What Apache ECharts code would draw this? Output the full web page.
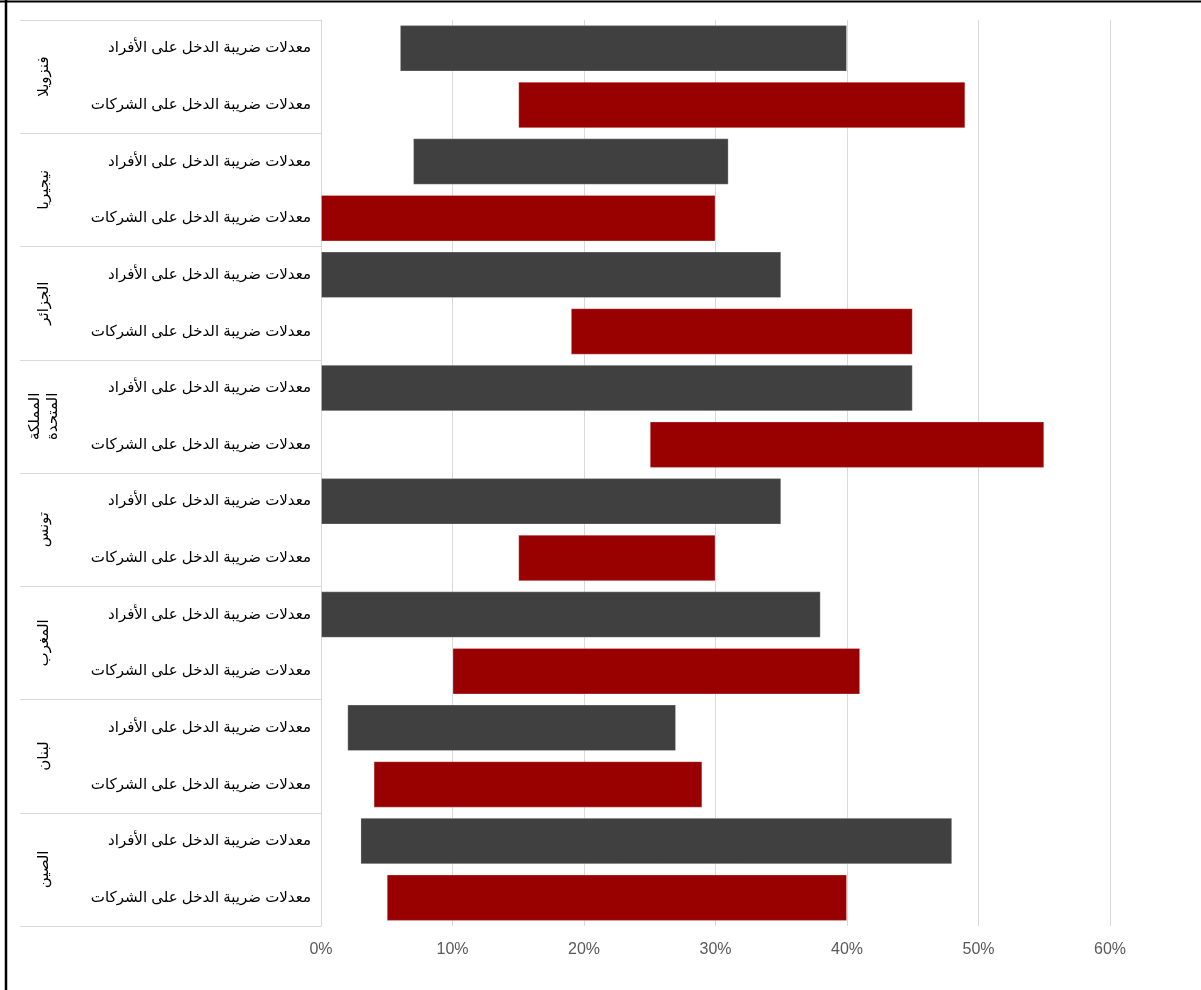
<!DOCTYPE html>
<html>
<head>
<meta charset="utf-8">
<script src="https://cdn.jsdelivr.net/npm/echarts@6/dist/echarts.min.js"></script>
<style>
  html, body { margin: 0; padding: 0; background: #fff; }
  #chart { width: 1201px; height: 990px; }
</style>
</head>
<body>
<div id="chart"></div>
<script>
// countries, top to bottom
const countries = ['فنزويلا', 'نيجيريا', 'الجزائر', 'المملكة\nالمتحدة', 'تونس', 'المغرب', 'لبنان', 'الصين'];
const rowLabels = ['معدلات ضريبة الدخل على الأفراد', 'معدلات ضريبة الدخل على الشركات'];

// tax rate ranges in % (min, max)
const indLow = [6, 7, 0, 0, 0, 0, 2, 3];
const indHigh = [40, 31, 35, 45, 35, 38, 27, 48];
const corpLow = [15, 0, 19, 25, 15, 10, 4, 5];
const corpHigh = [49, 30, 45, 55, 30, 41, 29, 40];

const xTicks = [0, 10, 20, 30, 40, 50, 60];

const GRAY = '#404040';
const RED = '#990000';
const font = "'Liberation Sans', 'DejaVu Sans', sans-serif";

// flatten to 16 rows: individuals then corporations per country
const cats = [], base = [], span = [];
countries.forEach((c, i) => {
  cats.push(rowLabels[0], rowLabels[1]);
  base.push(indLow[i], corpLow[i]);
  span.push(indHigh[i] - indLow[i], corpHigh[i] - corpLow[i]);
});

const chart = echarts.init(document.getElementById('chart'));
chart.setOption({
  animation: false,
  textStyle: { fontFamily: font },
  grid: { left: 321, right: 91, top: 20, bottom: 64 },
  graphic: [
    { type: 'line', shape: { x1: 6, y1: 0, x2: 6, y2: 990 }, style: { stroke: '#000', lineWidth: 2.5 } },
    { type: 'line', shape: { x1: 0, y1: 1.5, x2: 1201, y2: 1.5 }, style: { stroke: '#000', lineWidth: 2 } }
  ],
  xAxis: {
    type: 'value',
    min: xTicks[0],
    max: xTicks[xTicks.length - 1],
    interval: 10,
    axisLine: { show: false },
    axisTick: { show: false },
    splitLine: { lineStyle: { color: '#d9d9d9', width: 1 } },
    axisLabel: { formatter: '{value}%', color: '#595959', fontSize: 16, margin: 16, fontFamily: font }
  },
  yAxis: [
    {
      type: 'category',
      inverse: true,
      data: cats,
      axisLine: { lineStyle: { color: '#d9d9d9' } },
      axisTick: { show: false },
      axisLabel: { interval: 0, color: '#000', fontSize: 15, margin: 10, fontFamily: font }
    },
    {
      type: 'category',
      inverse: true,
      position: 'left',
      data: countries,
      axisLine: { show: false },
      axisTick: { show: true, length: 301, lineStyle: { color: '#d9d9d9' } },
      axisLabel: {
        interval: 0, rotate: 90, margin: 277, align: 'center', verticalAlign: 'middle',
        color: '#000', fontSize: 15, lineHeight: 18, fontFamily: font
      }
    }
  ],
  series: [
    {
      name: 'base',
      type: 'bar',
      stack: 'range',
      data: base,
      barWidth: '82%',
      itemStyle: { color: 'transparent' },
      silent: true
    },
    {
      name: 'range',
      type: 'bar',
      stack: 'range',
      data: span,
      barWidth: '82%',
      itemStyle: {
        color: p => (p.dataIndex % 2 === 0 ? GRAY : RED),
        borderColor: 'rgba(255,255,255,0.25)',
        borderWidth: 1
      }
    }
  ]
});
</script>
</body>
</html>
